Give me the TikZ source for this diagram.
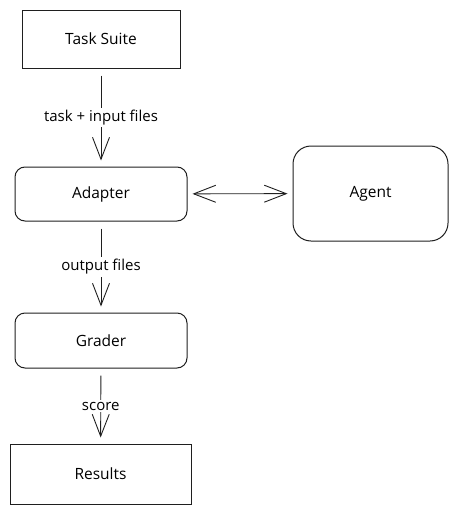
\documentclass[tikz,border=0pt]{standalone}
\usepackage{fontspec}
\setmainfont{Open Sans}
\usetikzlibrary{arrows.meta}
\begin{document}
\begin{tikzpicture}[x=1pt,y=-1pt,
    box/.style={draw=black!88,line width=1pt,minimum height=#1,font=\fontsize{15.5}{18}\selectfont},
    flow/.style={draw=black!88,line width=0.9pt,-{Straight Barb[length=22pt,width=17pt,line width=0.9pt]},shorten <=7pt,shorten >=6pt},
    lbl/.style={fill=white,inner sep=2pt,font=\fontsize{15}{18}\selectfont}]
    \useasboundingbox (0,0) rectangle (458,514);

    \node[box=58pt,minimum width=158pt] (suite) at (101,39) {Task Suite};
    \node[box=54pt,minimum width=172pt,rounded corners=10pt] (adapter) at (101,194) {Adapter};
    \node[box=95pt,minimum width=155pt,rounded corners=18pt] (agent) at (370.5,193.5) {Agent};
    \node[box=55pt,minimum width=172pt,rounded corners=10pt] (grader) at (101,340.5) {Grader};
    \node[box=60pt,minimum width=181pt] (results) at (100.5,474) {Results};

    \draw[flow] (suite) -- node[lbl] {task + input files} (adapter);
    \draw[flow,{Straight Barb[length=22pt,width=17pt,line width=0.9pt]}-{Straight Barb[length=22pt,width=17pt,line width=0.9pt]},shorten <=5pt,shorten >=5pt] (adapter) -- (agent);
    \draw[flow] (adapter) -- node[lbl] {output files} (grader);
    \draw[flow] (grader) -- node[lbl] {score} (results);
\end{tikzpicture}
\end{document}
